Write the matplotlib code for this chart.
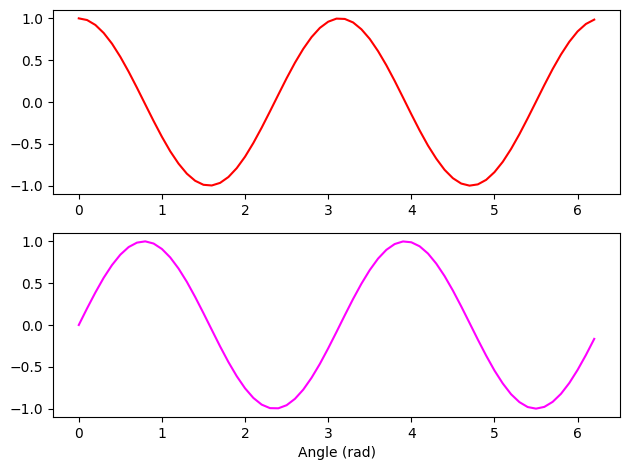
import matplotlib
matplotlib.use("Agg")
import matplotlib.pyplot as plt

angle = [0.0, 0.1, 0.2, 0.3, 0.4, 0.5, 0.6, 0.7, 0.8, 0.9,
         1.0, 1.1, 1.2, 1.3, 1.4, 1.5, 1.6, 1.7, 1.8, 1.9,
         2.0, 2.1, 2.2, 2.3, 2.4, 2.5, 2.6, 2.7, 2.8, 2.9,
         3.0, 3.1, 3.2, 3.3, 3.4, 3.5, 3.6, 3.7, 3.8, 3.9,
         4.0, 4.1, 4.2, 4.3, 4.4, 4.5, 4.6, 4.7, 4.8, 4.9,
         5.0, 5.1, 5.2, 5.3, 5.4, 5.5, 5.6, 5.7, 5.8, 5.9,
         6.0, 6.1, 6.2]

top_values = [1.000, 0.980, 0.921, 0.825, 0.697, 0.540, 0.362, 0.170, -0.029, -0.227,
              -0.416, -0.589, -0.737, -0.857, -0.942, -0.990, -0.998, -0.967, -0.897, -0.791,
              -0.654, -0.490, -0.307, -0.112, 0.087, 0.284, 0.469, 0.635, 0.776, 0.886,
              0.960, 0.997, 0.993, 0.951, 0.869, 0.754, 0.608, 0.439, 0.252, 0.054,
              -0.146, -0.340, -0.520, -0.677, -0.811, -0.911, -0.975, -1.000, -0.985, -0.931,
              -0.839, -0.715, -0.561, -0.385, -0.194, 0.004, 0.203, 0.394, 0.568, 0.720,
              0.844, 0.933, 0.985]

bottom_values = [0.000, 0.199, 0.389, 0.565, 0.717, 0.841, 0.932, 0.985, 1.000, 0.974,
                 0.909, 0.808, 0.675, 0.516, 0.335, 0.141, -0.058, -0.256, -0.443, -0.612,
                 -0.757, -0.872, -0.952, -0.994, -0.996, -0.959, -0.883, -0.773, -0.631, -0.465,
                 -0.279, -0.083, 0.117, 0.312, 0.494, 0.657, 0.794, 0.899, 0.968, 0.999,
                 0.989, 0.941, 0.855, 0.734, 0.585, 0.412, 0.223, 0.025, -0.174, -0.366,
                 -0.544, -0.699, -0.828, -0.922, -0.981, -1.000, -0.979, -0.919, -0.823, -0.694,
                 -0.537, -0.359, -0.166]

fig, (ax1, ax2) = plt.subplots(2, 1, figsize=(6.3, 4.7), dpi=100)
ax1.plot(angle, top_values, color="red")
ax2.plot(angle, bottom_values, color="magenta")
ax2.set_xlabel("Angle (rad)")
fig.subplots_adjust(left=53/630, right=620/630, top=1 - 10/470,
                    bottom=1 - 417/470, hspace=39/184)
fig.savefig("out.png", dpi=100)
